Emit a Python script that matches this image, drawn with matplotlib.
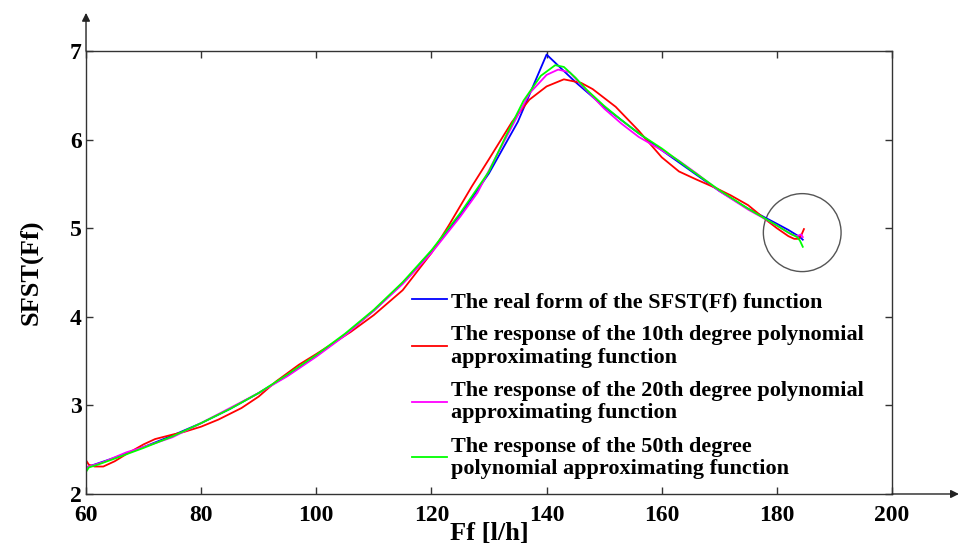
import matplotlib
matplotlib.use("Agg")
import matplotlib.pyplot as plt
from matplotlib.patches import Ellipse

# real SFST(Ff) curve
x_real = [60, 65, 70, 75, 80, 85, 90, 95, 100, 105, 110, 115, 120, 125, 130,
          135, 140, 145, 150, 155, 160, 165, 170, 175, 180, 182, 184, 184.5]
y_real = [2.30, 2.41, 2.53, 2.66, 2.80, 2.96, 3.14, 3.34, 3.56, 3.80, 4.07, 4.38,
          4.74, 5.15, 5.62, 6.20, 6.96, 6.65, 6.37, 6.12, 5.88, 5.65, 5.42, 5.22,
          5.05, 4.98, 4.90, 4.87]

# 10th degree polynomial response
x_p10 = [60, 60.5, 61.5, 63, 65, 67, 70, 72, 75, 77, 80, 83, 87, 90, 93, 97, 100,
         106, 110, 115, 120, 123, 127, 130, 134, 137, 140, 143, 146, 148, 152,
         156, 160, 163, 166, 169.5, 172, 175, 178, 180, 182, 183, 183.8, 184.3, 184.7]
y_p10 = [2.38, 2.33, 2.31, 2.31, 2.37, 2.45, 2.56, 2.62, 2.67, 2.70, 2.76, 2.84,
         2.97, 3.10, 3.27, 3.46, 3.58, 3.83, 4.02, 4.30, 4.72, 5.03, 5.47, 5.78,
         6.20, 6.45, 6.60, 6.68, 6.64, 6.57, 6.37, 6.10, 5.80, 5.64, 5.55, 5.45,
         5.37, 5.26, 5.10, 5.00, 4.91, 4.88, 4.88, 4.93, 4.99]

# 20th degree polynomial response
x_p20 = [60, 63, 67, 70, 75, 80, 85, 90, 95, 100, 105, 110, 115, 120, 125, 128,
         131, 134, 137, 140, 142, 144, 146, 150, 153, 156, 160, 163, 166, 170,
         175, 180, 182.5, 183.5, 184.2, 184.5]
y_p20 = [2.30, 2.36, 2.47, 2.53, 2.64, 2.80, 2.97, 3.14, 3.33, 3.55, 3.79, 4.07,
         4.37, 4.72, 5.13, 5.40, 5.78, 6.15, 6.52, 6.73, 6.79, 6.76, 6.62, 6.35,
         6.18, 6.03, 5.88, 5.76, 5.62, 5.42, 5.21, 5.03, 4.93, 4.91, 4.93, 4.90]

# 50th degree polynomial response
x_p50 = [60, 60.5, 62, 65, 70, 75, 80, 85, 90, 95, 100, 105, 110, 115, 120, 125,
         130, 133, 136, 139, 141.5, 143, 145, 147, 150, 153, 156, 160, 165, 170,
         175, 180, 182, 183.5, 184, 184.5]
y_p50 = [2.25, 2.30, 2.33, 2.40, 2.52, 2.65, 2.80, 2.96, 3.14, 3.35, 3.57, 3.81,
         4.08, 4.39, 4.75, 5.17, 5.64, 6.05, 6.44, 6.72, 6.84, 6.82, 6.70, 6.56,
         6.38, 6.22, 6.07, 5.90, 5.66, 5.43, 5.22, 5.03, 4.95, 4.90, 4.86, 4.79]

labels = ["The real form of the SFST(Ff) function",
          "The response of the 10th degree polynomial\napproximating function",
          "The response of the 20th degree polynomial\napproximating function",
          "The response of the 50th degree\npolynomial approximating function"]

x_ticks = [60, 80, 100, 120, 140, 160, 180, 200]
y_ticks = [2, 3, 4, 5, 6, 7]

serif = ["Liberation Serif", "DejaVu Serif"]
plt.rcParams["font.family"] = serif
plt.rcParams["font.weight"] = "bold"

fig = plt.figure(figsize=(9.6, 5.47), dpi=100)
ax = fig.add_axes([0.0896, 0.0969, 0.8396, 0.8099])

ax.plot(x_real, y_real, color="#0000ff", lw=1.3, label=labels[0])
ax.plot(x_p10, y_p10, color="#ff0000", lw=1.3, label=labels[1])
ax.plot(x_p20, y_p20, color="#ff00ff", lw=1.3, label=labels[2])
ax.plot(x_p50, y_p50, color="#00ff00", lw=1.3, label=labels[3])

# circle marking the end region
ax.add_patch(Ellipse((184.4, 4.95), 13.5, 0.88, fill=False,
                     edgecolor="#555555", lw=1.0))

ax.set_xlim(60, 200)
ax.set_ylim(2, 7)
ax.set_xticks(x_ticks)
ax.set_yticks(y_ticks)
ax.tick_params(direction="in", length=5, width=1, colors="#333333",
               top=True, right=True, labelsize=17, labelcolor="black")
ax.tick_params(axis="x", pad=8)
ax.tick_params(axis="y", pad=3)
for s in ax.spines.values():
    s.set_color("#333333")
    s.set_linewidth(1)

# axis arrows
ax.annotate("", xy=(1.083, 0), xytext=(1, 0), xycoords="axes fraction",
            arrowprops=dict(arrowstyle="-|>", color="#222222", lw=1,
                            mutation_scale=12, shrinkA=0, shrinkB=0))
ax.annotate("", xy=(0, 1.086), xytext=(0, 1), xycoords="axes fraction",
            arrowprops=dict(arrowstyle="-|>", color="#222222", lw=1,
                            mutation_scale=12, shrinkA=0, shrinkB=0))

ax.set_xlabel("Ff [l/h]", fontsize=19, fontweight="bold", labelpad=-3)
ax.set_ylabel("SFST(Ff)", fontsize=19, fontweight="bold", labelpad=20)

leg = ax.legend(loc="upper left", bbox_to_anchor=(0.405, 0.457), frameon=False,
                fontsize=16, handlelength=1.55, handletextpad=0.2,
                labelspacing=0.6, borderaxespad=0, borderpad=0)
for t in leg.get_texts():
    t.set_linespacing(1.15)

fig.savefig("out.png", dpi=100)
plt.close(fig)
